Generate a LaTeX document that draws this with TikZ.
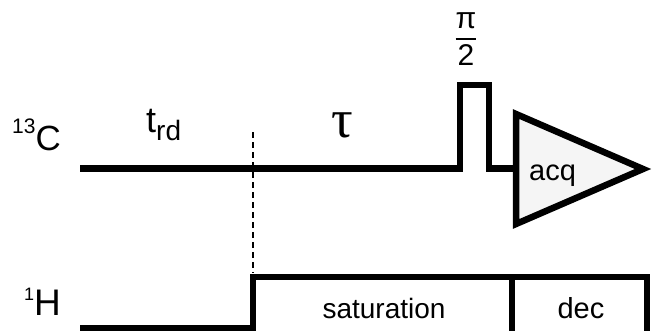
\documentclass[tikz,border=0pt]{standalone}
\usepackage{amsmath}
\usepackage{fontspec}
\setmainfont{Liberation Sans}
\newfontfamily\greekserif{Liberation Serif}
\usetikzlibrary{positioning}
\definecolor{acqgray}{gray}{0.96}

\begin{document}
\begin{tikzpicture}[x=1pt, y=-1pt, seq/.style = {line width=6.5pt, line join=miter}, lbl/.style = {inner sep=0pt, anchor=base west}, box/.style = {inner sep=0pt, anchor=base}]
\useasboundingbox (0,0) rectangle (654,330);

\node[lbl] (c13) at (12,150) {\fontsize{21}{21}\selectfont\raisebox{17pt}{13}\fontsize{35}{35}\selectfont C};
\node[lbl] (h1) at (24,315) {\fontsize{18}{18}\selectfont\raisebox{15pt}{1}\fontsize{37}{37}\selectfont H};
\node[lbl] (trd) at (146,132) {\fontsize{36}{36}\selectfont t\raisebox{-8pt}{\fontsize{28}{28}\selectfont rd}};
\node[lbl] (tau) at (331,137) {\greekserif\fontsize{54}{54}\selectfont τ};
\node[inner sep=0pt] (pihalf) at (466,40) {\fontsize{30}{30}\selectfont$\genfrac{}{}{1.6pt}{0}{\mbox{π}}{\raisebox{2pt}{\mbox{2}}}$};
\node[box] (sat) at (384,318) {\fontsize{28}{28}\selectfont saturation};
\node[box] (dec) at (581,318) {\fontsize{29}{29}\selectfont dec};

% carbon channel: delay, pi/2 pulse, acquisition
\draw[seq] (80,168.5) -| (460,85) -| (489,168.5) -- (516,168.5);
\draw[seq, fill=acqgray] (516,114) -- (643,169) -- (516,224) -- cycle;
\node[lbl] (acq) at (529,180) {\fontsize{29}{29}\selectfont acq};

\draw[line width=1.3pt, dash pattern=on 6pt off 4pt] (253,132) -- (253,273);

% proton channel: saturation then decoupling
\draw[seq] (80,328) -| (253,277) -- (647,277) -- (647,336);
\draw[seq] (512,277) -- (512,336);

\end{tikzpicture}
\end{document}
